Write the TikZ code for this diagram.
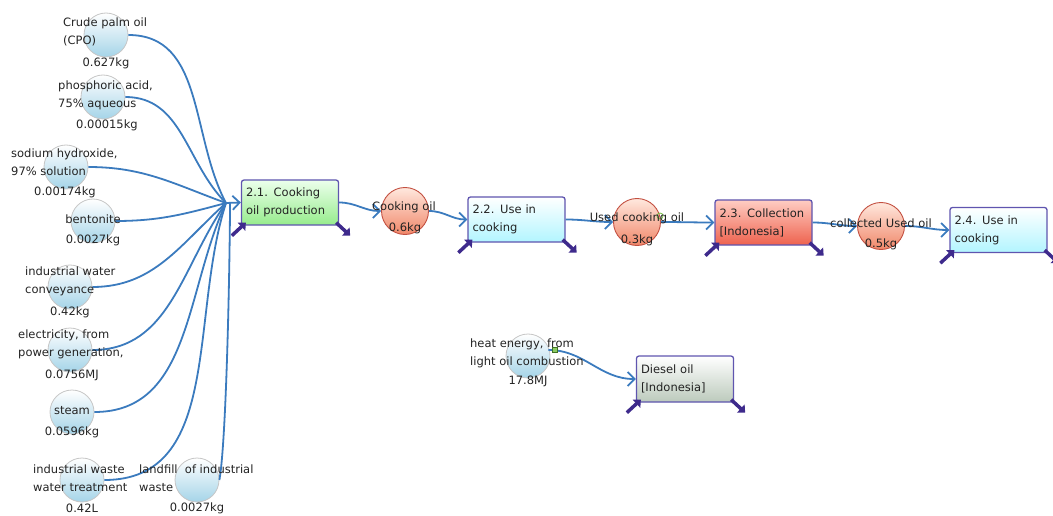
\documentclass[tikz,border=0pt]{standalone}
\usepackage{fontspec}
\setmainfont{DejaVu Sans}
\usetikzlibrary{arrows.meta}
\hyphenpenalty=10000
\exhyphenpenalty=10000
\definecolor{flow}{RGB}{59,123,190}
\definecolor{txt}{RGB}{35,35,35}
\definecolor{bluec}{RGB}{165,212,232}
\definecolor{redline}{RGB}{195,80,65}
\definecolor{redtop}{RGB}{255,232,222}
\definecolor{redbot}{RGB}{240,135,105}
\definecolor{boxline}{RGB}{95,85,175}
\definecolor{cornc}{RGB}{62,42,140}
\definecolor{greenbot}{RGB}{150,236,140}
\definecolor{greentop}{RGB}{236,255,236}
\definecolor{cyanbot}{RGB}{178,245,255}
\definecolor{redboxtop}{RGB}{255,205,195}
\definecolor{redboxbot}{RGB}{238,98,78}
\definecolor{graybot}{RGB}{188,202,188}
\definecolor{markg}{RGB}{110,190,60}
\begin{document}
\begin{tikzpicture}[x=1pt,y=-1pt,
  font=\fontsize{11.5}{18}\selectfont,
  inflow/.style={circle, minimum size=44pt, inner sep=0pt, draw=gray!45, line width=0.8pt, top color=white, bottom color=bluec},
  prodflow/.style={circle, minimum size=47pt, inner sep=0pt, draw=redline, line width=0.9pt, top color=redtop, bottom color=redbot},
  proc/.style={rectangle, rounded corners=2.5pt, draw=boxline, line width=1.3pt, minimum height=45pt, text width=88pt, inner xsep=4.5pt, inner ysep=2pt, align=left, text=txt},
  lbl/.style={inner sep=0pt, align=left, text=txt},
  conn/.style={draw=flow, line width=1.8pt},
  arr/.style={conn, -{Straight Barb[length=7pt,width=14pt]}},
  corner/.style={draw=cornc, line width=3.5pt, -{Triangle[length=6pt,width=11pt]}}
]
\useasboundingbox (0,0) rectangle (1053,516);

% input flow circles
\node[inflow] (c1) at (106,35) {};
\node[inflow] (c2) at (103,97) {};
\node[inflow] (c3) at (66,167) {};
\node[inflow] (c4) at (93,221) {};
\node[inflow] (c5) at (70,287) {};
\node[inflow] (c6) at (70,350) {};
\node[inflow] (c7) at (72,412) {};
\node[inflow] (c8) at (82,480) {};
\node[inflow] (c9) at (197,480) {};
\node[inflow] (heat) at (528,356) {};

% product flow circles
\node[prodflow] (co) at (405,211) {};
\node[prodflow] (uco) at (637,222) {};
\node[prodflow] (cuo) at (881,226) {};

% process boxes
\node[proc, top color=greentop, bottom color=greenbot] (p21) at (290,202.5) {2.1. Cooking\\oil production};
\node[proc, top color=white, bottom color=cyanbot] (p22) at (516.5,219.5) {2.2. Use in\\cooking};
\node[proc, top color=redboxtop, bottom color=redboxbot] (p23) at (763.5,222.5) {2.3. Collection\\{[Indonesia]}};
\node[proc, top color=white, bottom color=cyanbot] (p24) at (998.5,230) {2.4. Use in\\cooking};
\node[proc, top color=white, bottom color=graybot, minimum height=46pt] (dsl) at (685,379) {Diesel oil\\{[Indonesia]}};

% corner arrows
\foreach \b in {p21,p22,p23,p24,dsl}{
  \draw[corner] ([shift={(-9,10)}]\b.south west) -- ([shift={(5,-3)}]\b.south west);
  \draw[corner] ([shift={(-3,-3)}]\b.south east) -- ([shift={(11,10)}]\b.south east);
}

% merge point of the inputs
\coordinate (m) at (226,203);

\draw[conn] (c1.east) to[out=0,in=118] (m);
\draw[conn] (c2.east) to[out=0,in=135] (m);
\draw[conn] (c3.east) to[out=0,in=160] (m);
\draw[conn] (c4.east) to[out=0,in=195] (m);
\draw[conn] (c5.east) to[out=0,in=222] (m);
\draw[conn] (c6.east) to[out=0,in=235] (m);
\draw[conn] (c7.east) to[out=0,in=245] (m);
\draw[conn] (c8.east) to[out=0,in=252] (m);
\draw[conn] (c9.east) to[out=80,in=-90,looseness=0.4] ([xshift=4pt]m);
\draw[arr] (m) -- (p21.west);

% main chain
\draw[arr] (p21.east) to[out=0,in=180] (co.west);
\draw[arr] (co.east) to[out=0,in=180] (p22.west);
\draw[arr] (p22.east) to[out=0,in=180] (uco.west);
\draw[arr] (uco.east) to[out=0,in=180] (p23.west);
\draw[arr] (p23.east) to[out=0,in=180] (cuo.west);
\draw[arr] (cuo.east) to[out=0,in=180] (p24.west);
\draw[arr] ([shift={(-2,-6)}]heat.east) to[out=0,in=180] (dsl.west);

% small markers
\node[circle, draw=markg, line width=0.8pt, minimum size=6pt, inner sep=0pt] (mk1) at (660,216) {};
\node[rectangle, fill=markg!80, draw=markg!60!black, line width=0.4pt, minimum size=5pt, inner sep=0pt] (mk2) at (555,350) {};

% labels of input flows
\node[lbl, anchor=west] (t1) at (63,32) {Crude palm oil\\(CPO)};
\node[lbl] (v1) at (106,63) {0.627kg};
\node[lbl, anchor=west] (t2) at (58,95) {phosphoric acid,\\75\% aqueous};
\node[lbl] (v2) at (107,125) {0.00015kg};
\node[lbl, anchor=west] (t3) at (11,162) {sodium hydroxide,\\97\% solution};
\node[lbl] (v3) at (65,192) {0.00174kg};
\node[lbl] (t4) at (93,219) {bentonite};
\node[lbl] (v4) at (93,240) {0.0027kg};
\node[lbl, anchor=west] (t5) at (25,281) {industrial water\\conveyance};
\node[lbl] (v5) at (70,312) {0.42kg};
\node[lbl, anchor=west] (t6) at (18,344) {electricity, from\\power generation,};
\node[lbl] (v6) at (72,375) {0.0756MJ};
\node[lbl] (t7) at (72,411) {steam};
\node[lbl] (v7) at (72,432) {0.0596kg};
\node[lbl, anchor=west] (t8) at (33,478) {industrial waste\\water treatment};
\node[lbl] (v8) at (82,508) {0.42L};
\node[lbl, anchor=west] (t9) at (139,478) {landfill\ \ of industrial\\waste};
\node[lbl] (v9) at (197,508) {0.0027kg};
\node[lbl, anchor=west] (th) at (470,353) {heat energy, from\\light oil combustion};
\node[lbl] (vh) at (528,381) {17.8MJ};

% labels of product flows
\node[lbl] (tco) at (404,207) {Cooking oil};
\node[lbl] (vco) at (405,228) {0.6kg};
\node[lbl] (tuco) at (637,218) {Used cooking oil};
\node[lbl] (vuco) at (637,240) {0.3kg};
\node[lbl] (tcuo) at (881,223) {collected Used oil};
\node[lbl] (vcuo) at (881,244) {0.5kg};
\end{tikzpicture}
\end{document}
